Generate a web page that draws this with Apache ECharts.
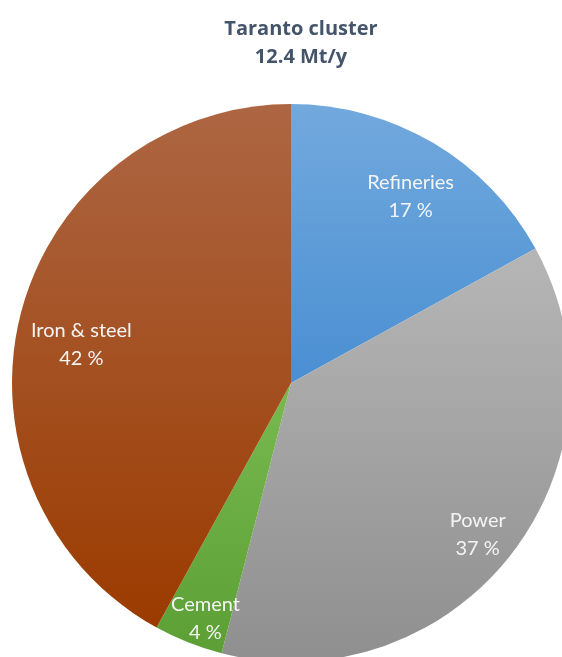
<!DOCTYPE html>
<html>
<head>
<meta charset="utf-8">
<script src="https://cdn.jsdelivr.net/npm/echarts@6/dist/echarts.min.js"></script>
<style>
html,body{margin:0;padding:0;background:#fff;}
#chart{width:562px;height:657px;}
</style>
</head>
<body>
<div id="chart"></div>
<script>
// Emissions by sector, Taranto cluster
const sectors = ['Refineries', 'Power', 'Cement', 'Iron & steel'];
const shares = [17, 37, 4, 42];
const topColors = ['#72a9dd', '#b6b6b6', '#78ba4f', '#ad6643'];
const bottomColors = ['#4a8fd3', '#8f8f8f', '#5b9f35', '#9b3b00'];
// small per-slice nudges for the label blocks (px)
const labelNudges = [[0, 16], [1, 8], [1, 17], [18, 20]];

const chart = echarts.init(document.getElementById('chart'));

const slices = sectors.map((name, i) => ({
  name,
  value: shares[i],
  itemStyle: {
    color: new echarts.graphic.LinearGradient(0, 0, 0, 1, [
      { offset: 0, color: topColors[i] },
      { offset: 1, color: bottomColors[i] }
    ])
  }
}));

const labelSlices = sectors.map((name, i) => ({
  name,
  value: shares[i],
  label: { offset: labelNudges[i] }
}));

chart.setOption({
  animation: false,
  title: {
    text: 'Taranto cluster\n12.4 Mt/y',
    left: 296,
    top: 10,
    textAlign: 'center',
    textStyle: {
      fontFamily: 'Open Sans',
      fontSize: 20,
      fontWeight: 'bold',
      color: '#44546a',
      lineHeight: 28
    }
  },
  series: [
    {
      type: 'pie',
      center: [291, 383],
      radius: [0, 279],
      startAngle: 90,
      silent: true,
      label: { show: false },
      labelLine: { show: false },
      itemStyle: { borderWidth: 0 },
      data: slices
    },
    {
      // transparent ring used only to place labels near the rim
      type: 'pie',
      center: [291, 383],
      radius: [185, 279],
      startAngle: 90,
      silent: true,
      itemStyle: { color: 'rgba(0,0,0,0)', borderWidth: 0 },
      label: {
        show: true,
        position: 'inside',
        formatter: p => p.name + '\n' + p.value + ' %',
        fontFamily: 'Lato',
        fontSize: 20,
        lineHeight: 28,
        color: '#f4f4f4',
        align: 'center'
      },
      labelLine: { show: false },
      data: labelSlices
    }
  ]
});
</script>
</body>
</html>
